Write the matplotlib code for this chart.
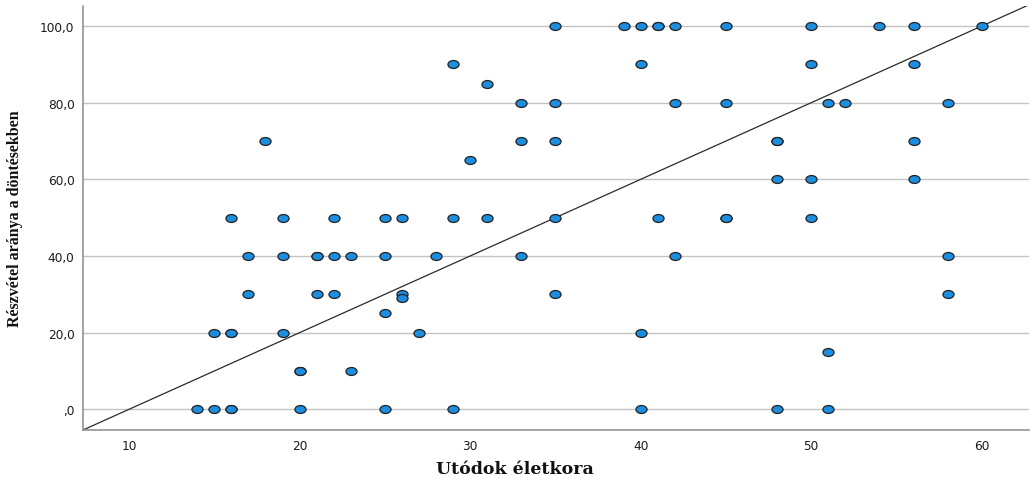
import numpy as np
import matplotlib
matplotlib.use("Agg")
from matplotlib import pyplot as plt
from matplotlib.path import Path
from matplotlib.transforms import Affine2D

# Utódok életkora (x) and Részvétel aránya a döntésekben (y)
x_age = [35, 39, 40, 41, 41, 42, 45, 50, 54, 56, 60,
         29, 40, 50, 56,
         31,
         33, 35, 42, 45, 51, 52, 58,
         18, 33, 35, 48, 48, 56,
         30,
         48, 50, 56,
         16, 19, 22, 25, 26, 29, 31, 35, 41, 45, 45, 50,
         17, 19, 21, 21, 22, 23, 25, 28, 33, 42, 58,
         17, 21, 22, 26, 35, 58,
         26,
         25,
         15, 16, 16, 19, 27, 40,
         51,
         20, 20, 23,
         14, 15, 16, 16, 20, 25, 29, 40, 48, 51]
y_part = [100, 100, 100, 100, 100, 100, 100, 100, 100, 100, 100,
          90, 90, 90, 90,
          85,
          80, 80, 80, 80, 80, 80, 80,
          70, 70, 70, 70, 70, 70,
          65,
          60, 60, 60,
          50, 50, 50, 50, 50, 50, 50, 50, 50, 50, 50, 50,
          40, 40, 40, 40, 40, 40, 40, 40, 40, 40, 40,
          30, 30, 30, 30, 30, 30,
          29,
          25,
          20, 20, 20, 20, 20, 20,
          15,
          10, 10, 10,
          0, 0, 0, 0, 0, 0, 0, 0, 0, 0]

# fit line as drawn in the picture
fit_slope = 2.0
fit_intercept = -20.0

x_ticks = [10, 20, 30, 40, 50, 60]
y_ticks = [0, 20, 40, 60, 80, 100]
y_ticklabels = [",0", "20,0", "40,0", "60,0", "80,0", "100,0"]
xlim = (7.285, 62.77)
ylim = (-5.48, 105.3)

# points in the picture are stretched sideways -> ellipse marker
ellipse = Path.unit_circle().transformed(Affine2D().scale(1.4, 1.0))

fig = plt.figure(figsize=(10.3, 4.81), dpi=100)
ax = fig.add_axes([0.0803, 0.1033, 0.9187, 0.8827])

ax.set_xlim(*xlim)
ax.set_ylim(*ylim)

for v in y_ticks:
    ax.axhline(v, color="#c3c3c3", lw=1.0, zorder=1)

xx = np.array(xlim)
ax.plot(xx, fit_slope * xx + fit_intercept, color="#2b2b2b", lw=0.9, zorder=2)

ax.plot(x_age, y_part, ls="none", marker=ellipse, markersize=8.0,
        markerfacecolor="#1c8ee0", markeredgecolor="#222222",
        markeredgewidth=0.9, zorder=3)

ax.set_xticks(x_ticks)
ax.set_yticks(y_ticks)
ax.set_yticklabels(y_ticklabels)
ax.tick_params(length=0, labelsize=8.7, labelcolor="#1a1a1a")
ax.tick_params(axis="y", pad=6)
ax.tick_params(axis="x", pad=6)
for lab in ax.get_xticklabels() + ax.get_yticklabels():
    lab.set_family("DejaVu Sans")

for s in ["top", "right"]:
    ax.spines[s].set_visible(False)
for s in ["left", "bottom"]:
    ax.spines[s].set_color("#8a8a8a")
    ax.spines[s].set_linewidth(1.1)

fig.text(0.5, 0.023, "Utódok életkora", ha="center", va="center",
         family="DejaVu Serif", fontweight="bold", fontsize=12.5, color="#111111")
fig.text(0.0145, 0.545, "Részvétel aránya a döntésekben", ha="center", va="center",
         rotation=90, family="Liberation Serif", fontweight="bold", fontsize=11.5,
         color="#111111")

fig.savefig("out.png", dpi=100)
